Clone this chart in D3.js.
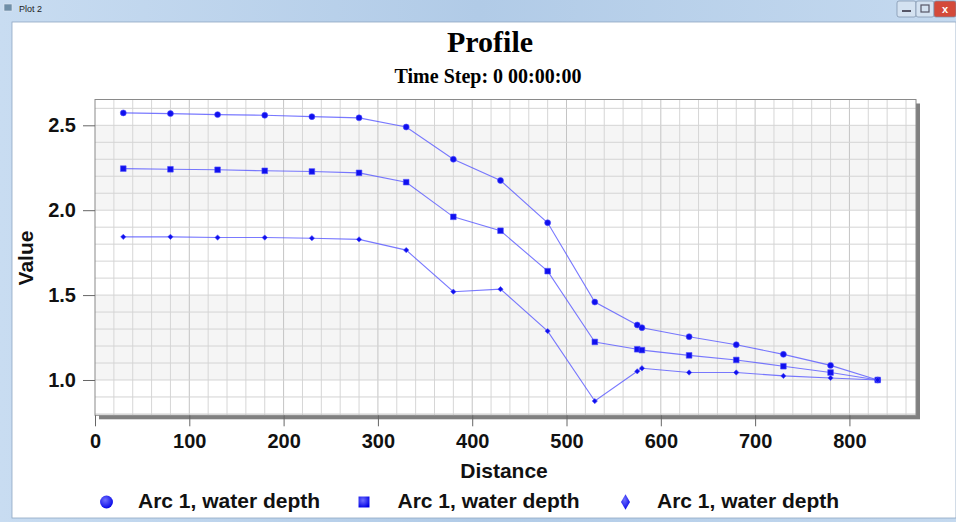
<!DOCTYPE html>
<html><head><meta charset="utf-8">
<script src="https://cdn.jsdelivr.net/npm/d3@7"></script>
<style>html,body{margin:0;padding:0;background:#fff;overflow:hidden}</style>
</head><body>
<svg id="c" width="956" height="522"></svg>
<script>
const distance = [30,80,130,180,230,280,330,380,430,480,530,575,580,630,680,730,780,830];
const depthCircle = [2.573,2.569,2.563,2.559,2.551,2.544,2.49,2.30,2.175,1.926,1.459,1.324,1.308,1.255,1.208,1.151,1.086,1.0];
const depthSquare = [2.245,2.241,2.238,2.232,2.228,2.22,2.165,1.961,1.879,1.641,1.224,1.181,1.176,1.145,1.118,1.081,1.044,1.0];
const depthDiamond = [1.843,1.843,1.839,1.839,1.835,1.828,1.765,1.52,1.535,1.288,0.876,1.051,1.069,1.044,1.044,1.024,1.012,1.0];
const seriesNames = ["Arc 1, water depth","Arc 1, water depth","Arc 1, water depth"];
const xTicks = [0,100,200,300,400,500,600,700,800];
const yTicks = [1.0,1.5,2.0,2.5];
const titleText = "Profile";
const subtitleText = "Time Step: 0 00:00:00";
const windowTitle = "Plot 2";

const svg = d3.select("#c");
const defs = svg.append("defs");
const tb = defs.append("linearGradient").attr("id","tb").attr("x1",0).attr("x2",1).attr("y1",0).attr("y2",0);
tb.append("stop").attr("offset","0").attr("stop-color","#c8dcf1");
tb.append("stop").attr("offset","0.5").attr("stop-color","#b1cbe7");
tb.append("stop").attr("offset","1").attr("stop-color","#c4d9ef");
const mg = defs.append("radialGradient").attr("id","mg").attr("cx","0.4").attr("cy","0.35").attr("r","0.7");
mg.append("stop").attr("offset","0").attr("stop-color","#6f6fff");
mg.append("stop").attr("offset","1").attr("stop-color","#0000e6");

// window chrome
svg.append("rect").attr("x",0).attr("y",0).attr("width",956).attr("height",522).attr("fill","url(#tb)");
svg.append("rect").attr("x",12).attr("y",22).attr("width",944).attr("height",496).attr("fill","#fff").attr("stroke","#8fa7c2").attr("stroke-width",0.8);
svg.append("rect").attr("x",4).attr("y",4).attr("width",8).attr("height",7).attr("fill","#6f8fa8").attr("stroke","#e0e8f0").attr("stroke-width",0.6);
svg.append("text").attr("x",19).attr("y",12).attr("font-family","Liberation Sans, Arial").attr("font-size",9).attr("fill","#222").text(windowTitle);
const btns=[{x:897,w:19,f:"#d4e2f1"},{x:916,w:18,f:"#d4e2f1"},{x:934,w:22,f:"#d44a3a"}];
svg.selectAll("rect.btn").data(btns).enter().append("rect").attr("class","btn")
 .attr("x",d=>d.x).attr("y",1).attr("width",d=>d.w).attr("height",16).attr("rx",2)
 .attr("fill",d=>d.f).attr("stroke","#7a8ea6").attr("stroke-width",0.7);
svg.append("rect").attr("x",902).attr("y",10).attr("width",9).attr("height",2).attr("fill","#556");
svg.append("rect").attr("x",921).attr("y",5).attr("width",8).attr("height",7).attr("fill","none").attr("stroke","#556").attr("stroke-width",1.2);
svg.append("text").attr("x",945).attr("y",13).attr("text-anchor","middle").attr("font-family","Liberation Sans, Arial").attr("font-weight","bold").attr("font-size",11).attr("fill","#fff").text("x");

// plot geometry
const L=95, T=99.5, W=821, H=315.8;
const x = d3.scaleLinear().domain([0,870.6]).range([L,L+W]);
const y = d3.scaleLinear().domain([0.792,2.652]).range([T+H,T]);

// shadow
svg.append("rect").attr("x",L+4).attr("y",T+4).attr("width",W).attr("height",H).attr("fill","#808080");
svg.append("rect").attr("x",L).attr("y",T).attr("width",W).attr("height",H).attr("fill","#fff");
// bands
const bands=[[2.0,2.5],[1.0,1.5]];
svg.selectAll("rect.band").data(bands).enter().append("rect").attr("class","band")
 .attr("x",L).attr("width",W).attr("y",d=>y(d[1])).attr("height",d=>y(d[0])-y(d[1])).attr("fill","#f5f5f5");
// grid
const vg = d3.range(20,870,20);
svg.selectAll("line.vg").data(vg).enter().append("line").attr("class","vg")
 .attr("x1",d=>x(d)).attr("x2",d=>x(d)).attr("y1",T).attr("y2",T+H)
 .attr("stroke",d=>d%100===0?"#c4c4c4":"#d6d6d6").attr("stroke-width",1);
const hg = d3.range(8,27).map(v=>v/10);
svg.selectAll("line.hg").data(hg).enter().append("line").attr("class","hg")
 .attr("x1",L).attr("x2",L+W).attr("y1",d=>y(d)).attr("y2",d=>y(d))
 .attr("stroke","#d4d4d4").attr("stroke-width",1);
svg.append("rect").attr("x",L).attr("y",T).attr("width",W).attr("height",H).attr("fill","none").attr("stroke","#8a8a8a").attr("stroke-width",1);

// axes
const fontSans="Liberation Sans, Arial, sans-serif";
const yAxis = d3.axisLeft(y).tickValues(yTicks).tickFormat(d3.format(".1f")).tickSize(12).tickPadding(7);
const ga = svg.append("g").attr("transform",`translate(${L},0)`).call(yAxis);
ga.select(".domain").remove();
ga.selectAll("line").attr("stroke","#666");
ga.selectAll("text").attr("font-family",fontSans).attr("font-weight","bold").attr("font-size",20).attr("fill","#111");
const xAxis = d3.axisBottom(x).tickValues(xTicks).tickFormat(d3.format("d")).tickSize(11).tickPadding(8);
const gx = svg.append("g").attr("transform",`translate(0,${T+H})`).call(xAxis);
gx.select(".domain").remove();
gx.selectAll("line").attr("stroke","#666");
gx.selectAll("text").attr("font-family",fontSans).attr("font-weight","bold").attr("font-size",20).attr("fill","#111");

// titles
const fontSerif="Liberation Serif, Times New Roman, serif";
svg.append("text").attr("x",490).attr("y",51.5).attr("text-anchor","middle").attr("font-family",fontSerif).attr("font-weight","bold").attr("font-size",30).attr("fill","#000").text(titleText);
svg.append("text").attr("x",488).attr("y",83.3).attr("text-anchor","middle").attr("font-family",fontSerif).attr("font-weight","bold").attr("font-size",20).attr("fill","#000").text(subtitleText);
svg.append("text").attr("x",504).attr("y",477.5).attr("text-anchor","middle").attr("font-family",fontSans).attr("font-weight","bold").attr("font-size",21).attr("fill","#111").text("Distance");
svg.append("text").attr("transform","translate(33,258) rotate(-90)").attr("text-anchor","middle").attr("font-family",fontSans).attr("font-weight","bold").attr("font-size",21).attr("fill","#111").text("Value");

// series
const series=[
 {vals:depthCircle, shape:d3.symbolCircle, lshape:d3.symbolCircle, size:28, lsize:130},
 {vals:depthSquare, shape:d3.symbolSquare, lshape:d3.symbolSquare, size:32, lsize:120},
 {vals:depthDiamond, shape:d3.symbolDiamond2, lshape:d3.symbolDiamond, size:18, lsize:70}
];
const line = d3.line().x(d=>x(d[0])).y(d=>y(d[1]));
series.forEach(s=>{
  const pts = distance.map((d,i)=>[d,s.vals[i]]);
  svg.append("path").attr("d",line(pts)).attr("fill","none").attr("stroke","#5858ff").attr("stroke-opacity",0.8).attr("stroke-width",1.1);
});
series.forEach(s=>{
  const pts = distance.map((d,i)=>[d,s.vals[i]]);
  svg.selectAll(null).data(pts).enter().append("path")
   .attr("transform",d=>`translate(${x(d[0])},${y(d[1])})`)
   .attr("d",d3.symbol().type(s.shape).size(s.size)).attr("fill","#1010ee").attr("stroke","#5050ff").attr("stroke-width",0.6);
});

// legend
const legX=[[106.5,138],[364,397.5],[625.5,657]];
series.forEach((s,i)=>{
  svg.append("path").attr("transform",`translate(${legX[i][0]},502)`).attr("d",d3.symbol().type(s.lshape).size(s.lsize)).attr("fill","url(#mg)");
  svg.append("text").attr("x",legX[i][1]).attr("y",507.5).attr("font-family",fontSans).attr("font-weight","bold").attr("font-size",21).attr("fill","#111").text(seriesNames[i]);
});
</script>
</body></html>
